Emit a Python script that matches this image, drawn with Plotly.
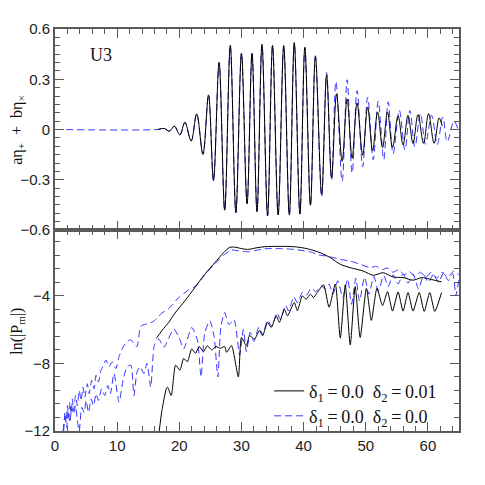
import plotly.graph_objects as go
from plotly.subplots import make_subplots

# ---- top panel: a*eta_plus + b*eta_cross, extrema ----
wave_black_t = [16.5, 17.6, 18.4, 19.2, 20.1, 20.9, 21.9, 22.8, 23.8, 24.7, 25.5, 26.4, 27.3, 28.2,
                29.1, 30.0, 30.9, 31.7, 32.5, 33.3, 34.2, 35.0, 35.9, 36.8, 37.7, 38.5, 39.4, 40.2,
                41.1, 41.9, 42.9, 43.7, 44.5, 45.3, 46.2, 47.0, 47.8, 48.6, 49.5, 50.3, 51.1, 51.9,
                52.7, 53.5, 54.3, 55.2, 56.0, 56.8, 57.6, 58.4, 59.3, 60.1, 61.0, 61.8, 62.3]
wave_black_h = [0.0, 0.006, -0.01, 0.02, -0.032, 0.043, -0.069, 0.093, -0.148, 0.207, -0.305, 0.40,
                -0.482, 0.503, -0.496, 0.455, -0.443, 0.455, -0.49, 0.508, -0.515, 0.502, -0.51, 0.50,
                -0.511, 0.518, -0.505, 0.49, -0.452, 0.44, -0.388, 0.325, -0.289, 0.213, -0.19, 0.183,
                -0.171, 0.158, -0.153, 0.134, -0.128, 0.104, -0.108, 0.104, -0.108, 0.081, -0.092,
                0.085, -0.083, 0.089, -0.083, 0.095, -0.083, 0.069, 0.02]

wave_blue_t = [0.0, 16.5, 17.6, 18.4, 19.2, 20.1, 20.9, 21.9, 22.8, 23.8, 24.7, 25.5, 26.4, 27.3,
               28.2, 29.1, 30.0, 30.9, 31.7, 32.5, 33.3, 34.2, 35.0, 35.9, 36.8, 37.7, 38.5, 39.4,
               40.2, 41.1, 41.9, 42.9, 43.7, 44.5, 45.2, 46.2, 47.0, 47.8, 48.6, 49.5, 50.3, 51.2,
               52.0, 52.9, 53.6, 54.4, 55.4, 56.3, 57.1, 57.9, 58.8, 59.6, 60.6, 61.5, 62.4, 63.1,
               64.2, 65.0]
wave_blue_h = [0.0, 0.0, 0.006, -0.01, 0.02, -0.032, 0.043, -0.069, 0.093, -0.148, 0.207, -0.305,
               0.40, -0.482, 0.503, -0.496, 0.455, -0.443, 0.455, -0.49, 0.508, -0.515, 0.502,
               -0.51, 0.50, -0.511, 0.518, -0.505, 0.49, -0.455, 0.43, -0.40, 0.34, -0.30, 0.286,
               -0.309, 0.297, -0.26, 0.232, -0.222, 0.193, -0.18, 0.169, -0.18, 0.165, -0.145,
               0.114, -0.122, 0.114, -0.104, 0.095, -0.088, 0.085, -0.09, 0.075, -0.073, 0.05, -0.02]

# ---- bottom panel: ln(|P_m|) ----
pm_black_hi_t = [16.3, 17.2, 18.3, 19.3, 20.9, 22.5, 24.1, 25.7, 27.1, 28.1, 29.0, 30.0, 31.0,
                 32.5, 33.7, 36.0, 38.5, 40.6, 42.7, 44.3, 45.9, 47.5, 49.6, 51.2, 52.8, 54.4,
                 56.0, 57.6, 59.0, 60.3, 62.2]
pm_black_hi = [-6.52, -6.06, -5.57, -5.02, -4.29, -3.51, -2.72, -2.04, -1.45, -1.13, -1.12, -1.2,
               -1.25, -1.15, -1.09, -1.07, -1.09, -1.21, -1.45, -1.74, -2.13, -2.33, -2.53, -2.78,
               -2.63, -2.88, -2.92, -3.07, -2.92, -3.01, -3.17]

pm_black_lo_t = [16.7, 17.2, 17.9, 18.1, 18.7, 19.4, 20.1, 20.7, 21.3, 22.0, 22.6, 23.2, 23.9,
                 24.5, 25.2, 25.9, 26.6, 27.3, 27.6, 28.4, 29.5, 30.0, 30.8, 31.3, 32.1, 32.9,
                 33.4, 34.2, 34.8, 35.6, 36.1, 36.9, 37.4, 38.5, 39.0, 39.8, 40.4, 41.1, 41.6,
                 42.2, 43.2, 44.1, 45.1, 45.9, 46.7, 47.5, 48.3, 49.1, 50.1, 50.9, 51.8, 52.7,
                 53.5, 54.3, 55.2, 56.0, 56.8, 57.6, 58.6, 59.4, 60.3, 61.1, 62.2]
pm_black_lo = [-12.2, -10.8, -9.5, -9.4, -9.9, -8.1, -8.4, -7.7, -7.9, -7.14, -7.4, -7.0, -7.3,
               -6.95, -7.2, -7.0, -7.1, -7.0, -7.34, -6.95, -8.8, -6.46, -6.95, -6.36, -6.55,
               -6.06, -6.36, -5.57, -5.87, -5.18, -5.57, -4.79, -5.18, -4.4, -4.88, -4.0, -4.2,
               -3.9, -4.1, -3.8, -3.35, -4.67, -3.3, -6.5, -3.35, -6.9, -3.45, -6.46, -3.55,
               -5.45, -3.55, -4.57, -3.75, -4.9, -3.77, -4.9, -3.8, -4.9, -3.8, -4.92, -3.8,
               -4.92, -3.8]

pm_blue_hi_t = [1.4, 1.6, 1.8, 2.0, 2.2, 2.4, 2.6, 2.8, 3.0, 3.3, 3.6, 3.9, 4.2, 4.5, 4.8, 5.2,
                5.5, 5.9, 6.3, 6.6, 7.0, 7.4, 7.7, 8.2, 8.7, 9.2, 9.8, 10.3, 11.0, 11.6, 12.2,
                12.8, 13.2, 13.8, 14.6, 15.3, 15.9, 16.7, 17.2, 18.3, 19.9, 21.5, 22.5, 24.1,
                25.7, 27.1, 28.4, 29.5, 31.0, 32.2, 33.7, 36.0, 38.5, 41.1, 42.7, 43.8, 44.6,
                45.9, 47.5, 49.1, 50.7, 51.7, 52.6, 53.5, 54.4, 55.3, 56.2, 57.0, 57.9, 58.8,
                59.7, 60.5, 61.4, 62.3, 63.2, 64.1, 65.0]
pm_blue_hi = [-12.0, -10.9, -11.5, -10.5, -11.2, -10.3, -11.0, -10.1, -10.8, -9.9, -10.5, -9.6,
              -10.2, -9.4, -10.0, -9.2, -9.8, -9.0, -9.5, -8.7, -9.1, -8.4, -8.2, -7.8, -8.2,
              -7.9, -8.3, -7.6, -7.0, -6.7, -6.6, -6.9, -7.0, -5.8, -5.67, -5.6, -5.5, -5.2,
              -5.02, -4.75, -4.1, -3.65, -3.45, -2.75, -2.1, -1.6, -1.29, -1.33, -1.39, -1.32,
              -1.21, -1.2, -1.25, -1.4, -1.6, -1.64, -1.72, -1.84, -1.94, -2.13, -2.33, -2.25,
              -2.45, -2.35, -2.6, -2.45, -2.75, -2.55, -2.85, -2.6, -2.9, -2.6, -2.95, -2.6,
              -2.9, -2.55, -2.75]

pm_blue_lo_t = [1.3, 1.6, 1.9, 2.1, 2.4, 2.7, 3.0, 3.3, 3.6, 3.9, 4.3, 4.7, 5.0, 5.4, 5.8, 6.2,
                6.6, 7.0, 7.5, 8.0, 8.5, 8.9, 9.5, 10.3, 11.0, 11.6, 12.2, 12.7, 13.2, 13.7,
                14.3, 14.8, 15.4, 16.0, 16.7, 17.5, 19.1, 20.0, 20.7, 22.0, 22.9, 23.5, 24.1,
                24.9, 25.6, 26.2, 26.7, 27.3, 28.0, 28.8, 29.7, 30.3, 30.8, 31.4, 32.0, 32.8,
                33.4, 34.2, 34.9, 35.7, 36.3, 37.1, 37.6, 38.4, 39.0, 39.8, 40.5, 41.2, 42.0,
                42.8, 43.5, 44.1, 44.7, 45.5, 46.3, 47.1, 47.7, 48.4, 49.0, 49.8, 50.5, 51.3,
                52.0, 52.9, 53.6, 54.4, 55.2, 56.0, 56.8, 57.6, 58.5, 59.3, 60.1, 60.9, 61.7,
                62.5, 63.3, 64.0, 64.5, 65.0]
pm_blue_lo = [-12.0, -11.2, -11.8, -10.8, -11.5, -10.6, -11.0, -10.5, -11.4, -12.0, -10.6, -10.9,
              -10.2, -10.9, -10.1, -10.5, -9.8, -10.2, -9.5, -9.9, -9.3, -9.8, -8.6, -10.3, -8.9,
              -8.2, -8.1, -9.9, -8.5, -8.2, -8.6, -8.0, -9.4, -6.9, -6.55, -7.05, -5.96, -6.5,
              -7.14, -5.87, -6.6, -8.8, -6.2, -5.47, -6.4, -8.8, -5.8, -4.98, -5.7, -5.4, -7.5,
              -6.0, -7.3, -6.15, -6.7, -5.85, -6.3, -5.45, -5.8, -5.0, -5.4, -4.55, -4.9, -4.05,
              -4.4, -3.8, -3.95, -3.55, -3.75, -3.4, -3.6, -3.3, -3.9, -3.1, -4.1, -3.0, -4.5,
              -2.95, -4.3, -2.9, -3.9, -2.85, -3.7, -2.8, -3.45, -2.75, -3.3, -2.7, -3.25, -2.7,
              -3.6, -2.75, -3.2, -2.7, -3.2, -2.65, -3.1, -2.7, -4.0, -2.9]

legend_black = "δ<sub>1</sub>\u2009=\u20090.0\u00a0\u00a0δ<sub>2</sub>\u2009=\u20090.01"
legend_blue = "δ<sub>1</sub>\u2009=\u20090.0\u00a0\u00a0δ<sub>2</sub>\u2009=\u20090.0"

BLACK = "#000000"
BLUE = "#3535ff"
AXIS = "#5a5a5a"
SERIF = "Liberation Serif"
SANS = "Liberation Sans"

fig = make_subplots(rows=2, cols=1, shared_xaxes=True, vertical_spacing=0)


def add_line(x, y, row, color, dashed=False, name=None, legend=None, smooth=1.0):
    fig.add_trace(go.Scatter(
        x=x, y=y, mode="lines", name=name or "",
        line=dict(color=color, width=1, dash="7px,4px" if dashed else "solid",
                  shape="spline", smoothing=smooth),
        showlegend=legend is not None, legend=legend or "legend",
        hoverinfo="skip"), row=row, col=1)


# top panel
add_line(wave_blue_t, wave_blue_h, 1, BLUE, dashed=True)
add_line(wave_black_t, wave_black_h, 1, BLACK)

# bottom panel
add_line(pm_blue_hi_t, pm_blue_hi, 2, BLUE, dashed=True, smooth=0.6)
add_line(pm_blue_lo_t, pm_blue_lo, 2, BLUE, dashed=True, smooth=0.6, name=legend_blue, legend="legend2")
add_line(pm_black_hi_t, pm_black_hi, 2, BLACK, smooth=0.8, name=legend_black, legend="legend")
add_line(pm_black_lo_t, pm_black_lo, 2, BLACK, smooth=0.6)

axis_common = dict(showline=True, linewidth=2, linecolor=AXIS, mirror="allticks",
                   ticks="inside", ticklen=9, tickwidth=1.3, tickcolor=AXIS,
                   showgrid=False, zeroline=False,
                   tickfont=dict(family=SANS, size=15, color="#222"))

fig.update_xaxes(range=[0, 65], tick0=0, dtick=10,
                 minor=dict(tick0=0, dtick=2, ticks="inside", ticklen=5, tickcolor=AXIS, tickwidth=1),
                 **axis_common)
fig.update_xaxes(showticklabels=False, row=1, col=1)

fig.update_yaxes(range=[-0.6, 0.6], tickvals=[-0.6, -0.3, 0, 0.3, 0.6],
                 minor=dict(tick0=-0.6, dtick=0.05, ticks="inside", ticklen=5, tickcolor=AXIS, tickwidth=1),
                 row=1, col=1, **axis_common)
fig.update_yaxes(range=[-12, -0.1], tickvals=[-12, -8, -4],
                 minor=dict(tick0=-12, dtick=0.8, ticks="inside", ticklen=5, tickcolor=AXIS, tickwidth=1),
                 row=2, col=1, **axis_common)

legend_style = dict(xanchor="left", yanchor="middle", bgcolor="rgba(0,0,0,0)",
                    font=dict(family=SERIF, size=18, color="#111"), itemwidth=30)

# the page body adds ~8px offset, so margins are shifted left/up to compensate
fig.update_layout(
    width=485, height=485,
    margin=dict(l=44, r=34, t=19, b=62),
    paper_bgcolor="white", plot_bgcolor="white",
    legend=dict(x=0.53, y=0.099, **legend_style),
    legend2=dict(x=0.53, y=0.037, **legend_style),
    annotations=[
        dict(text="aη<sub>+</sub>\u00a0\u00a0+\u00a0\u00a0bη<sub>×</sub>", textangle=-90,
             xref="paper", yref="paper", x=-0.092, y=0.749, xanchor="center", yanchor="middle",
             showarrow=False, font=dict(family=SERIF, size=16, color="#111")),
        dict(text="ln(|P<sub>m</sub>|)", textangle=-90,
             xref="paper", yref="paper", x=-0.092, y=0.249, xanchor="center", yanchor="middle",
             showarrow=False, font=dict(family=SERIF, size=16, color="#111")),
        dict(text="U3", xref="paper", yref="paper", x=0.081, y=0.935,
             xanchor="left", yanchor="middle", showarrow=False,
             font=dict(family=SERIF, size=18, color="#111")),
    ],
)

fig.write_html("out.html")
